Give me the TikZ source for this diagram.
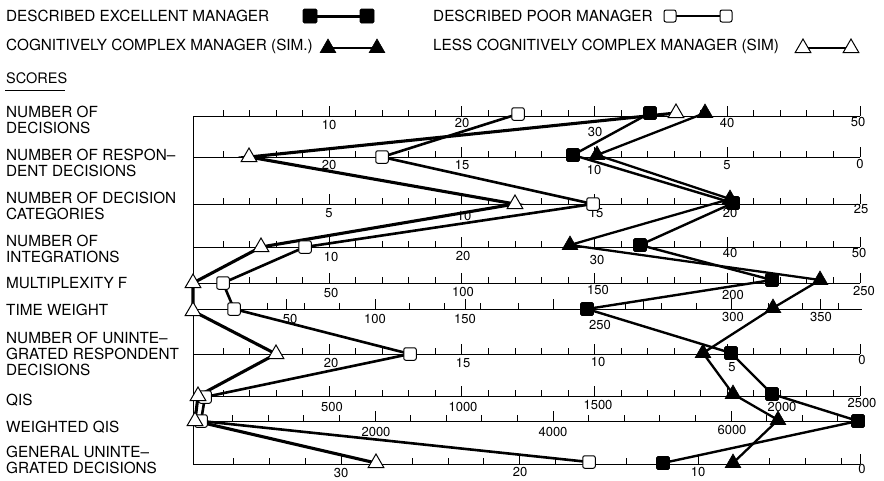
\documentclass[tikz,border=0pt]{standalone}
\usepackage{fontspec}
\setmainfont{TeX Gyre Heros}
\usetikzlibrary{shapes.geometric}
\pgfdeclarelayer{background}
\pgfsetlayers{background,main}
\begin{document}
\begin{tikzpicture}[x=1pt,y=-1pt,
  txt/.style={font=\fontsize{15.3}{16.2}\selectfont, inner sep=0pt, anchor=west, align=left},
  num/.style={font=\fontsize{13}{13}\selectfont, inner sep=0pt},
  ax/.style={line width=0.9pt},
  tk/.style={line width=0.9pt},
  esq/.style={rectangle, draw=black, fill=black, line width=0.6pt, minimum size=13pt, inner sep=0pt, rounded corners=1.2pt},
  psq/.style={rectangle, draw=black, fill=white, line width=1pt, minimum size=12.5pt, inner sep=0pt, rounded corners=2pt},
  ctri/.style={regular polygon, regular polygon sides=3, draw=black, fill=black, line width=0.6pt, minimum size=18pt, inner sep=0pt},
  ltri/.style={regular polygon, regular polygon sides=3, draw=black, fill=white, line width=1pt, minimum size=18pt, inner sep=0pt},
  eln/.style={line width=2.4pt},
  cln/.style={line width=2.3pt},
  pln/.style={line width=2.6pt},
  lln/.style={line width=3.1pt}]
\useasboundingbox (0,0) rectangle (884,480);

% ---------- legend ----------
\node[txt] (legE) at (6,16) {DESCRIBED EXCELLENT MANAGER};
\node[txt] (legP) at (433,16) {DESCRIBED POOR MANAGER};
\node[txt] (legC) at (6,46) {COGNITIVELY COMPLEX MANAGER (SIM.)};
\node[txt] (legL) at (433,46) {LESS COGNITIVELY COMPLEX MANAGER (SIM)};
\node[esq, minimum size=14pt] (lgE1) at (310,16) {};
\node[esq, minimum size=14pt] (lgE2) at (367,16) {};
\node[psq, minimum size=12pt] (lgP1) at (670,16) {};
\node[psq, minimum size=12pt] (lgP2) at (726,16) {};
\node[ctri] (lgC1) at (328,48) {};
\node[ctri] (lgC2) at (377,48) {};
\node[ltri] (lgL1) at (803,48) {};
\node[ltri] (lgL2) at (851,48) {};
\begin{pgfonlayer}{background}
  \draw[eln, line width=3pt] (lgE1.center) -- (lgE2.center);
  \draw[pln] (lgP1.center) -- (lgP2.center);
  \draw[cln] (lgC1.center) -- (lgC2.center);
  \draw[lln, line width=2.6pt] (lgL1.center) -- (lgL2.center);
\end{pgfonlayer}

\node[txt, font=\fontsize{14.5}{15}\selectfont] (scores) at (6,78) {SCORES};
\draw[line width=0.8pt] (5,90) -- (65,90);

% ---------- score names ----------
\node[txt] (lb1) at (6,120) {NUMBER OF\\DECISIONS};
\node[txt] (lb2) at (6,162.8) {NUMBER OF RESPON--\\DENT DECISIONS};
\node[txt] (lb3) at (6,206.2) {NUMBER OF DECISION\\CATEGORIES};
\node[txt] (lb4) at (6,249.2) {NUMBER OF\\INTEGRATIONS};
\node[txt] (lb5) at (6,283.3) {MULTIPLEXITY F};
\node[txt] (lb6) at (6,310) {TIME WEIGHT};
\node[txt] (lb7) at (6,354.1) {NUMBER OF UNINTE--\\GRATED RESPONDENT\\DECISIONS};
\node[txt] (lb8) at (6,400) {QIS};
\node[txt] (lb9) at (6,426.7) {WEIGHTED QIS};
\node[txt] (lb10) at (6,460) {GENERAL UNINTE--\\GRATED DECISIONS};

% ---------- scales ----------
\draw[ax] (193,116) -- (193,464);
% uniform scales with 25 tick steps
\foreach \yy in {116,157,204,247,283,354,396} {
  \draw[ax] (193,\yy) -- (860,\yy);
  \foreach \k in {1,...,25} {
    \pgfmathsetmacro\xx{196.5+\k*26.54}
    \pgfmathtruncatemacro\mj{mod(\k,5)==0 ? 1 : 0}
    \ifnum\mj=1 \draw[tk] (\xx,\yy) -- ++(0,-10); \else \draw[tk] (\xx,\yy) -- ++(0,-6); \fi
  }
}
% time weight scale
\draw[ax] (193,309) -- (862,309);
\foreach \xx in {267,304,339,409,444,480,518,625,661,696,768,802,838}
  \draw[tk] (\xx,309) -- ++(0,-6);
\foreach \xx in {286,375,465,553,643,731,820}
  \draw[tk] (\xx,309) -- ++(0,-10);
% weighted QIS scale
\draw[ax] (193,421) -- (858,421);
\foreach \k in {1,...,18} {
  \pgfmathsetmacro\xx{197+\k*35.6}
  \pgfmathtruncatemacro\mj{mod(\k,5)==0 ? 1 : 0}
  \ifnum\mj=1 \draw[tk] (\xx,421) -- ++(0,-10); \else \draw[tk] (\xx,421) -- ++(0,-6); \fi
}
% general unintegrated decisions scale
\draw[ax] (193,464) -- (860,464);
\foreach \k in {-3,...,14} {
  \pgfmathsetmacro\xx{341+\k*35.73}
  \pgfmathtruncatemacro\mj{mod(\k,5)==0 ? 1 : 0}
  \ifnum\mj=1 \draw[tk] (\xx,464) -- ++(0,-10); \else \draw[tk] (\xx,464) -- ++(0,-6); \fi
}
\draw[tk] (860,464) -- ++(0,-10);

% ---------- scale numbers ----------
\foreach \a/\b/\t [count=\i] in {329/125/10, 462/123/20, 595/132/30, 727/123/40, 858/122/50}
  \node[num] (na\i) at (\a,\b) {\t};
\foreach \a/\b/\t [count=\i] in {329/165/20, 462/165/15, 594/170/10, 727/165/5, 860/164/0}
  \node[num] (nb\i) at (\a,\b) {\t};
\foreach \a/\b/\t [count=\i] in {329/213/5, 464/216/10, 596/213/15, 730/213/20, 861/209/25}
  \node[num] (nc\i) at (\a,\b) {\t};
\foreach \a/\b/\t [count=\i] in {331/257/10, 463/256/20, 597/260/30, 730/253/40, 859/253/50}
  \node[num] (nd\i) at (\a,\b) {\t};
\foreach \a/\b/\t [count=\i] in {331/293/50, 463/292/100, 598/290/150, 733/295/200, 864/291/250}
  \node[num] (ne\i) at (\a,\b) {\t};
\foreach \a/\b/\t [count=\i] in {290/319/50, 375/319/100, 465/319/150, 600/325/250, 733/317/300, 821/317/350}
  \node[num] (nf\i) at (\a,\b) {\t};
\foreach \a/\b/\t [count=\i] in {331/363/20, 463/363/15, 598/362/10, 732/367/5, 862/360/0}
  \node[num] (ng\i) at (\a,\b) {\t};
\foreach \a/\b/\t [count=\i] in {332/407/500, 463/407/1000, 598/405/1500, 782/407/2000, 862/403/2500}
  \node[num] (nh\i) at (\a,\b) {\t};
\foreach \a/\b/\t [count=\i] in {376/432/2000, 553/432/4000, 732/430/6000}
  \node[num] (ni\i) at (\a,\b) {\t};
\foreach \a/\b/\t [count=\i] in {341/472.5/30, 520/471.5/20, 698/471.5/10, 862/469/0}
  \node[num] (nj\i) at (\a,\b) {\t};

% ---------- profiles ----------
% described poor manager
\foreach \a/\b [count=\i] in {518/114, 382/157, 593/204, 305/247, 223/283, 234/309, 410/354, 205/397, 201/421, 589/462}
  \node[psq] (p\i) at (\a,\b) {};
% described excellent manager
\foreach \a/\b [count=\i] in {650/113, 573/155, 733/203, 640/245, 772/280, 587/309, 731/353, 772/394, 858/421, 663/463}
  \node[esq] (e\i) at (\a,\b) {};
% cognitively complex manager
\foreach \a/\b [count=\i] in {705/113, 597/155, 730/199, 570/245, 820/280, 773/308, 703/353, 733/394, 778/420, 733/463}
  \node[ctri] (c\i) at (\a,\b) {};
% less cognitively complex manager
\foreach \a/\b [count=\i] in {676/113, 249/157, 515/204, 261/247, 193/283, 193/311, 276/354, 198/396, 195/421, 376/463}
  \node[ltri] (l\i) at (\a,\b) {};

\begin{pgfonlayer}{background}
  \draw[pln] (p1.center) -- (p2.center) -- (p3.center) -- (p4.center) -- (p5.center) -- (p6.center) -- (p7.center) -- (p8.center) -- (p9.center) -- (p10.center);
  \draw[eln] (e1.center) -- (e2.center) -- (e3.center) -- (e4.center) -- (e5.center) -- (e6.center) -- (e7.center) -- (e8.center) -- (e9.center) -- (e10.center);
  \draw[cln] (c1.center) -- (c2.center) -- (c3.center) -- (c4.center) -- (c5.center) -- (c6.center) -- (c7.center) -- (c8.center) -- (c9.center) -- (c10.center);
  \draw[lln] (l1.center) -- (l2.center) -- (l3.center) -- (l4.center) -- (l5.center) -- (l6.center) -- (l7.center) -- (l8.center) -- (l9.center) -- (l10.center);
\end{pgfonlayer}
\end{tikzpicture}
\end{document}
